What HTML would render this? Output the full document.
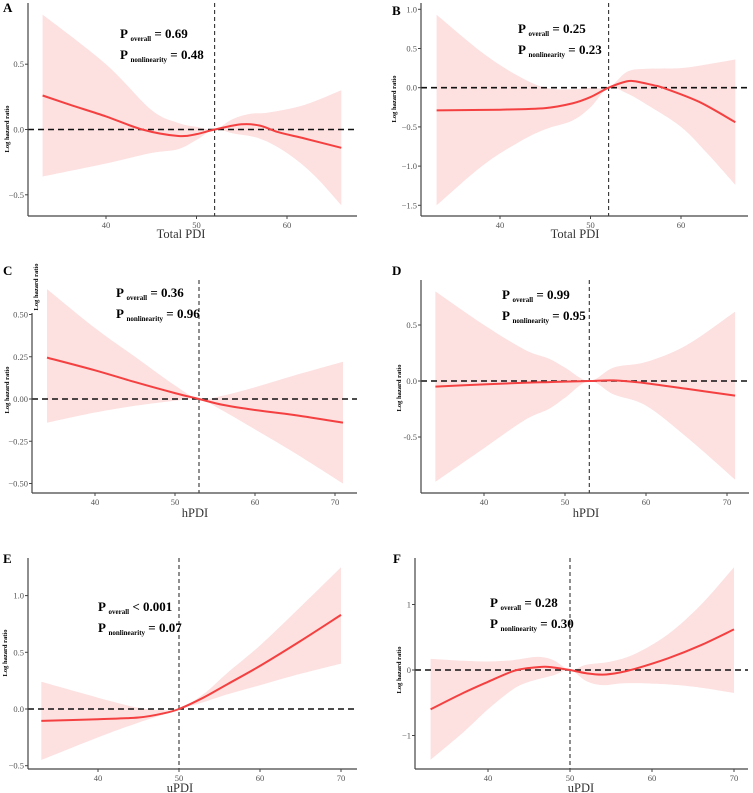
<!DOCTYPE html>
<html><head><meta charset="utf-8"><style>
body{margin:0;background:#fff;}
svg{display:block;font-family:"Liberation Serif",serif;}
.tick{font-size:8.5px;fill:#555;}
.pt{font-size:13px;font-weight:bold;fill:#000;}
.sub{font-size:7px;font-weight:bold;}
.yl{font-size:6.5px;font-weight:bold;fill:#000;}
.xl{font-size:12.5px;fill:#333;}
.let{font-size:13px;font-weight:bold;}
</style></head><body>
<svg id="chart" width="753" height="793" viewBox="0 0 753 793"></svg>
<script>
// Panel A
const aX=[33,36,40,44,48,50,52,55,57,59,62,66];
const aFit=[0.26,0.19,0.10,0.0,-0.05,-0.035,0,0.04,0.03,-0.02,-0.07,-0.14];
const aLoX=[33,40,45,48,50,52,54,57,60,63,66];
const aLo=[-0.36,-0.26,-0.18,-0.15,-0.08,0,-0.03,-0.07,-0.18,-0.35,-0.58];
const aHiX=[33,40,45,48,50,52,54,56,58,62,66];
const aHi=[0.88,0.5,0.15,0.05,0.02,0,0.08,0.12,0.13,0.19,0.30];
// Panel B
const bX=[33,40,45,48,50,52,54,55,57,58,62,66];
const bFit=[-0.29,-0.28,-0.26,-0.2,-0.12,0,0.08,0.08,0.03,0,-0.18,-0.44];
const bLoX=[33,38,42,45,48,50,52,54,56,60,63,66];
const bLo=[-1.5,-1.0,-0.7,-0.53,-0.42,-0.25,0,-0.07,-0.2,-0.5,-0.85,-1.24];
const bHiX=[33,38,42,45,48,50,52,54,56,60,63,66];
const bHi=[0.93,0.45,0.15,0.0,-0.02,0.0,0,0.2,0.24,0.25,0.3,0.36];
// Panel C
const cX=[34,40,45,50,53,56,60,65,71];
const cFit=[0.245,0.17,0.10,0.035,0,-0.035,-0.065,-0.095,-0.14];
const cLo=[-0.14,-0.08,-0.04,-0.01,0,-0.07,-0.18,-0.32,-0.50];
const cHi=[0.65,0.42,0.25,0.08,0,0.02,0.07,0.14,0.22];
// Panel D
const dX=[34,40,45,48,50,53,56,60,65,71];
const dFit=[-0.05,-0.03,-0.015,-0.01,-0.005,0,0.005,-0.02,-0.07,-0.13];
const dLo=[-0.9,-0.6,-0.35,-0.25,-0.15,0,-0.12,-0.22,-0.5,-0.88];
const dHi=[0.8,0.5,0.28,0.2,0.12,0,0.12,0.17,0.32,0.62];
// Panel E
const eX=[33,40,45,48,50,53,56,60,65,70];
const eFit=[-0.105,-0.09,-0.075,-0.04,0,0.1,0.22,0.38,0.6,0.83];
const eLo=[-0.45,-0.25,-0.12,-0.05,0,0.06,0.13,0.21,0.31,0.40];
const eHi=[0.24,0.1,0.01,-0.01,0,0.13,0.32,0.56,0.9,1.25];
// Panel F
const fX=[33,37,40,43,45,47,49,50,52,54,56,58,62,66,70];
const fFit=[-0.6,-0.35,-0.18,-0.02,0.03,0.05,0.02,0,-0.05,-0.07,-0.04,0.02,0.18,0.38,0.62];
const fLoX=[33,37,40,43,45,48,50,52,54,57,62,66,70];
const fLo=[-1.37,-0.95,-0.6,-0.3,-0.18,-0.08,0,-0.17,-0.23,-0.2,-0.22,-0.27,-0.35];
const fHiX=[33,37,40,43,46,48,50,52,55,58,62,66,70];
const fHi=[0.17,0.14,0.13,0.15,0.2,0.15,0,0.08,0.13,0.25,0.55,1.0,1.57];
// tick labels
const aXT=[40,50,60], aYT=[0.5,0.0,-0.5], aYL=["0.5","0.0","\u22120.5"];
const bXT=[40,50,60], bYT=[1,0.5,0,-0.5,-1,-1.5], bYL=["1.0","0.5","0.0","\u22120.5","\u22121.0","\u22121.5"];
const cXT=[40,50,60,70], cYT=[0.5,0.25,0,-0.25,-0.5], cYL=["0.50","0.25","0.00","\u22120.25","\u22120.50"];
const dXT=[40,50,60,70], dYT=[0.5,0,-0.5], dYL=["0.5","0.0","-0.5"];
const eXT=[40,50,60,70], eYT=[1,0.5,0,-0.5], eYL=["1.0","0.5","0.0","\u22120.5"];
const fXT=[40,50,60,70], fYT=[1,0,-1], fYL=["1","0","\u22121"];

const NS="http://www.w3.org/2000/svg";
const svg=document.getElementById('chart');
function mk(tag,attrs,parent){const e=document.createElementNS(NS,tag);for(const k in attrs)e.setAttribute(k,attrs[k]);(parent||svg).appendChild(e);return e;}
function spline(pts){let d="M"+pts[0][0].toFixed(1)+","+pts[0][1].toFixed(1);
 for(let i=0;i<pts.length-1;i++){const p0=pts[i-1]||pts[i],p1=pts[i],p2=pts[i+1],p3=pts[i+2]||p2;
  const c1=[p1[0]+(p2[0]-p0[0])/6,p1[1]+(p2[1]-p0[1])/6],c2=[p2[0]-(p3[0]-p1[0])/6,p2[1]-(p3[1]-p1[1])/6];
  d+=" C"+c1[0].toFixed(1)+","+c1[1].toFixed(1)+" "+c2[0].toFixed(1)+","+c2[1].toFixed(1)+" "+p2[0].toFixed(1)+","+p2[1].toFixed(1);}
 return d;}
function panel(P){
 const g=mk('g',{});
 
 
 const sx=v=>P.x0+(v-P.xr)*P.xs, sy=v=>P.y0-v*P.ys;
 // band
 const hi=P.hiX.map((x,i)=>[sx(x),sy(P.hi[i])]);
 const lo=P.loX.map((x,i)=>[sx(x),sy(P.lo[i])]).reverse();
 const bd=spline(hi)+" L"+lo[0][0].toFixed(1)+","+lo[0][1].toFixed(1)+spline(lo).replace(/^M[^ C]+/,"")+" Z";
 const band=mk('path',{d:bd,fill:'#fde0e0',stroke:'none'},g);
 
 
 // ref lines
 const hl=mk('line',{x1:P.ax,x2:P.right,y1:sy(0),y2:sy(0),stroke:'#111','stroke-width':1.6,'stroke-dasharray':'6,4'},g);
 
 
 const vl=mk('line',{x1:sx(P.ref),x2:sx(P.ref),y1:P.vtop,y2:P.bottom,stroke:'#333','stroke-width':1.1,'stroke-dasharray':'4,3'},g);
 
 
 // fit
 const fit=mk('path',{d:spline(P.fx.map((x,i)=>[sx(x),sy(P.fit[i])])),fill:'none',stroke:'#f44040','stroke-width':2},g);
 
 
 // axes
 const ya=mk('line',{x1:P.ax,x2:P.ax,y1:P.top,y2:P.bottom,stroke:'#444','stroke-width':1.2},g);
 
 
 const xa=mk('line',{x1:P.ax,x2:P.right,y1:P.bottom,y2:P.bottom,stroke:'#444','stroke-width':1.2},g);
 
 
 P.xt.forEach(v=>{mk('line',{x1:sx(v),x2:sx(v),y1:P.bottom,y2:P.bottom+3,stroke:'#444'},g);
  const t=mk('text',{x:sx(v),y:P.bottom+12,'text-anchor':'middle',class:'tick'},g);t.textContent=v;
  
  });
 P.yt.forEach((v,i)=>{mk('line',{x1:P.ax-3,x2:P.ax,y1:sy(v),y2:sy(v),stroke:'#444'},g);
  const t=mk('text',{x:P.ax-4,y:sy(v)+3,'text-anchor':'end',class:'tick'},g);t.textContent=P.yl[i];
  
  });
 const xl=mk('text',{x:P.xlx,y:P.xly,'text-anchor':'middle',class:'xl'},g);xl.textContent=P.xlab;
 
 
 P.yls.forEach(p=>{const t=mk('text',{x:0,y:0,'text-anchor':'middle',class:'yl',transform:`translate(${p[0]},${p[1]}) rotate(-90)`},g);t.textContent='Log hazard ratio';
  
  });
 const L=mk('text',{x:P.lx,y:P.ly,class:'let'},g);L.textContent=P.id;
 
 
 const t1=mk('text',{x:P.px,y:P.py,class:'pt'},g);
 
 
 t1.innerHTML='P <tspan class="sub" dy="3">overall</tspan><tspan dy="-3"> '+P.p1+'</tspan>';
 const t2=mk('text',{x:P.px,y:P.py+21,class:'pt'},g);
 
 
 t2.innerHTML='P <tspan class="sub" dy="3">nonlinearity</tspan><tspan dy="-3"> '+P.p2+'</tspan>';
}
panel({id:'A',x0:106,xr:40,xs:9.05,y0:129.5,ys:130.6,ax:28,right:357,top:3,bottom:216,vtop:3,ref:52,
 fx:aX,fit:aFit,loX:aLoX,lo:aLo,hiX:aHiX,hi:aHi,xt:aXT,yt:aYT,yl:aYL,xlab:'Total PDI',xlx:181,xly:238,
 yls:[[9,129]],lx:3,ly:12,px:120,py:38,p1:'= 0.69',p2:'= 0.48'});
panel({id:'B',x0:500,xr:40,xs:9.05,y0:87.7,ys:78.4,ax:421,right:748,top:3,bottom:216,vtop:3,ref:52,
 fx:bX,fit:bFit,loX:bLoX,lo:bLo,hiX:bHiX,hi:bHi,xt:bXT,yt:bYT,yl:bYL,xlab:'Total PDI',xlx:575,xly:238,
 yls:[[396,99]],lx:392,ly:15,px:518,py:33,p1:'= 0.25',p2:'= 0.23'});
panel({id:'C',x0:95,xr:40,xs:8.0,y0:399,ys:169,ax:32,right:357,top:313,bottom:493,vtop:280,ref:53,
 fx:cX,fit:cFit,loX:cX,lo:cLo,hiX:cX,hi:cHi,xt:cXT,yt:cYT,yl:cYL,xlab:'hPDI',xlx:195,xly:517,
 yls:[[9,390],[38,287]],lx:3,ly:275,px:116,py:297,p1:'= 0.36',p2:'= 0.96'});
panel({id:'D',x0:484,xr:40,xs:8.1,y0:381,ys:112,ax:421,right:749,top:280,bottom:493,vtop:280,ref:53,
 fx:dX,fit:dFit,loX:dX,lo:dLo,hiX:dX,hi:dHi,xt:dXT,yt:dYT,yl:dYL,xlab:'hPDI',xlx:586,xly:517,
 yls:[[401,388]],lx:392,ly:275,px:502,py:299,p1:'= 0.99',p2:'= 0.95'});
panel({id:'E',x0:98,xr:40,xs:8.1,y0:709,ys:113.4,ax:28,right:357,top:558,bottom:769,vtop:558,ref:50,
 fx:eX,fit:eFit,loX:eX,lo:eLo,hiX:eX,hi:eHi,xt:eXT,yt:eYT,yl:eYL,xlab:'uPDI',xlx:180,xly:792,
 yls:[[7,653]],lx:3,ly:563,px:98,py:611,p1:'< 0.001',p2:'= 0.07'});
panel({id:'F',x0:488,xr:40,xs:8.2,y0:670,ys:65.5,ax:415,right:748,top:558,bottom:769,vtop:558,ref:50,
 fx:fX,fit:fFit,loX:fLoX,lo:fLo,hiX:fHiX,hi:fHi,xt:fXT,yt:fYT,yl:fYL,xlab:'uPDI',xlx:581,xly:792,
 yls:[[401,670]],lx:393,ly:563,px:490,py:607,p1:'= 0.28',p2:'= 0.30'});
</script>
</body></html>
